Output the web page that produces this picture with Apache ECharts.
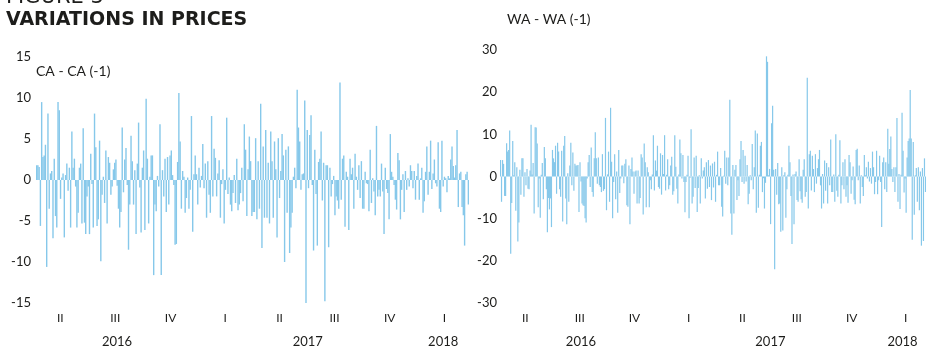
<!DOCTYPE html>
<html><head><meta charset="utf-8">
<script src="https://cdn.jsdelivr.net/npm/echarts@6/dist/echarts.min.js"></script>
<style>html,body{margin:0;padding:0;background:#fff}#c{width:926px;height:348px}</style>
</head><body><div id="c"></div>
<script>
// Daily change, CA - CA(-1)
const caValues = [
1.8,1.8,1.6,-5.6,9.5,2.8,3,4.3,-10.6,8.1,-3.5,0.8,1.1,-7.1,2.6,-4.4,-5.8,9.5,8.5,-2.3,0.3,0.8,-7,0.6,2,-1.3,1.5,-5.8,5.9,1.5,2.6,-0.8,-5.8,-4,1.5,2,-5.3,6.3,-5.2,-6.6,-2,-0.8,-6.6,3.2,-0.5,-5.8,8.1,4,-5.6,-4.8,4.8,-9.9,-1.8,0.4,-2.8,3.6,-5.3,2.8,2.1,-1.8,-0.8,1.3,2.1,2.5,-0.7,-3.5,-5.8,-3.9,6.4,-1.5,2.5,3.9,-0.6,-8.5,-3,5.4,2.3,-3,1.2,-6.6,2,7,-0.9,-6.4,1.5,3.6,-6.1,9.9,2.6,-5.3,0.4,3,3,-11.6,-3,-3.8,0.5,-0.8,6.8,-11.6,1.2,-2,2.6,-3.9,2.8,-3,3,3.6,0.6,-0.6,-7.9,
-7.8,2.2,10.6,4.7,-3.5,1.1,0.4,-4,-2.2,0.3,-3.5,-1.2,7.8,-6.3,0.7,3,0.7,-3,1.5,-0.9,0.5,4.4,-1,2,-4.6,2.3,-1.8,-4,7.8,-2,3.8,2.7,-2,0.8,2.4,-4.6,-0.5,1.3,-5.3,-1.2,7.6,-1.7,0.3,-3,-3.8,-1.6,0.6,-2.8,2.6,-3.7,-3,-1.6,1.5,-2.6,6.8,3.7,-4.4,1.3,5.3,2.3,-4.4,-3.9,-3.9,5.1,-4.8,2.3,-3.5,9.3,-8.3,4.1,-4.6,6.1,-4.6,2.1,-5.3,5.9,2.3,-4.6,4.7,1.3,-7,5.1,-2.2,1.1,5.6,3,-10,3.7,-4,4.1,-8.9,-5.8,-4,0.4,1.5,-1,11,6.4,4.7,-1.2,0.7,0.8,9.7,-15,6.1,-1,5.5,7.9,-0.6,-8.6,3.7,
-1.7,-8,2.2,2.6,5.9,-2.5,2.1,-14.8,1.8,1.8,-8.2,1.5,-2,-0.5,0.5,-4.3,-2,-2.5,-3.5,11.9,-2.4,2.6,3,-5.7,1,0.4,-6.1,2.6,0.7,1.5,-3.5,3.2,0.4,-1.2,1.8,-2.2,2.3,-3.5,-3.5,1,-0.4,-0.5,-3.8,3.7,-2.8,0.2,-1.4,-4.3,6.6,-2,-1.2,-2,2,-1.4,-6.6,1.5,-1.1,-1.6,-4.8,5.6,1,0.4,-0.6,-2.4,-3.6,3.3,2.4,-4.8,-1.2,0.7,-3.9,1.1,-1.2,0.2,-0.8,1.8,1.1,-1,1.1,-2.4,0.5,2,-2.4,0.2,1.5,-4,-2.6,1,4.1,-1.8,1,4.8,-1.1,0.8,2.5,-0.4,-0.8,4.6,-3.5,-3.9,4.8,-0.8,0.4,0.2,-1.5,0.5,0.2,2.5,4.1,1.7,0.3,1.8,6.1,-3.3,0.8,1,-3.3,-4.3,-8,0.7,1,-3
];
// Daily change, WA - WA(-1)
const waValues = [
3.9,-6,3.9,3,-4.6,-4.6,7.9,5.9,6.3,10.9,-18.3,-6.3,8.4,0.3,3.4,-8.1,2.2,-15.4,-10.9,1.6,-4.3,4.3,4.3,-4.8,1,-2.1,1.8,-2.9,-3,1.4,12.3,0.5,3.2,-8.8,11.7,11.6,7.8,-7.3,-0.5,-9.8,0.4,3.2,-5.4,7,4.3,-3,-13.2,-5.1,-7.8,-5.2,-12,6.3,4.3,3.4,7.3,-4.1,8,5.9,-3,-4.8,6.1,-10.7,7.3,9.6,-5.2,-11.3,0.8,-6,2.6,8,-2.1,5.7,-3.4,3,2.6,2.6,2.7,-8.4,3.4,-1.2,-6.4,-6.8,-7,-9.9,-10.9,-0.5,3.4,5.1,-2.5,6.9,-3.7,-4.8,4.3,10.5,4.3,-1.7,4.5,-2.1,-2.5,-3.7,5.3,-3.4,-3,13.9,-8,0.5,5.9,-6,16.3,3.5,-9.9,-1.3,5.3,-5.4,1.2,-8.6,6.3,-3.9,-0.5,2.6,2.6,-1.6,3,4.1,-6.8,-7.2,2.6,-11.3,1.8,4.5,1.2,-4.1,1.2,1.4,-6.4,
1.4,-6.4,-5.1,5.3,4.5,-9,7.8,3.4,-7.3,2.2,1,-7.3,-0.9,-3,0.5,9.8,-3.3,3.8,1.4,7.3,-2.5,-2.9,5.5,-4.3,5.1,0.6,9.8,-3.3,0.4,4.1,-3,-2.1,2.6,4.7,-4.3,-3.5,9.8,2.3,-2.9,-6.4,0.5,8.8,5.5,-0.5,5.1,-1.3,-8.5,-1.3,0.4,4.9,-9.9,-0.3,11.2,-6.4,-4.8,4.5,-2.7,4.9,-8.4,-2.7,0.3,-6.4,4.3,-0.5,1.4,2.2,-5.2,3.4,-2.9,3.9,-2.5,2.6,-5.6,3.1,-2.6,3.5,-6,0.4,5.9,-2.1,-2.1,2,-7.2,-9.5,0.2,6.1,-1.7,4.5,-2.1,4.5,18.2,-8.8,-13.8,2.7,-8.8,1.6,2.7,-5.6,-0.9,-4.6,4.1,8.4,-1.3,6.3,-1.7,4.9,-1.2,2.7,-6.6,-4.1,0.3,-0.9,7.7,-3,2.2,10.9,-8.6,10.2,-7.4,0.4,7.3,8.2,-3.7,-0.4,-7.6,-1.5,28.5,27.2,0.3,1.8,-11.3,12.6,16.8,1.6,-22,1.8,-4.3,3.2,-6.6,-6.4,-13.1,
2.2,-12.8,0.3,1,-9.8,-3,0.4,7.3,3.4,-4.6,-16,0.5,-11.3,0.6,1.2,-5.6,-6,4.1,-3.5,-5.4,-6.2,1.6,4.1,-4.8,-3.7,23.4,-7.6,5.3,6.1,-3.3,4.9,1.8,-3.7,5.3,-1.7,2,4.1,6.3,-2.1,-7.6,0.6,-6.4,3.8,-3.4,3.2,-6.4,2.2,-2.1,8.8,-3.7,-3.7,0.5,-6,10,-3.4,-4.8,0.4,8.6,-6.4,-2.1,3.4,-3,4.1,-4.8,-2.1,-6.2,5.1,3.4,-4.1,-0.9,2.4,-5.5,-6.6,6.3,6.6,-0.9,2.6,-6.4,0.3,-2.5,-4.6,5.1,0.3,2.2,-0.5,3.5,-1.2,2,-1.7,5.9,2.2,-4.2,-1.3,6.1,-4.2,-0.9,4.9,-1.3,-12,3.4,4.5,-3,3.4,-3.7,11.3,3,6.5,9.5,1.8,-1.3,2.2,-3.7,2.2,13.9,-6,0.6,-7.7,0.4,15.1,6.1,-3.8,-0.5,-8.6,4.5,8.4,9,20.5,9,-15,8.2,-9.1,0.3,2,-6,2.2,-8,1.2,-16.4,2,-15.3,4.3,-3.7
];
const caTicks = [-15,-10,-5,0,5,10,15];
const waTicks = [-30,-20,-10,0,10,20,30];
const quarterTicks = ['2016-Q2','2016-Q3','2016-Q4','2017-Q1','2017-Q2','2017-Q3','2017-Q4','2018-Q1'];
const yearTicks = ['2016','2017','2018'];
const caPeriod = ['2016-04-06','2018-03-28'];
const waPeriod = ['2016-04-04','2018-03-21'];

const DAY = 86400000;
const roman = ['I','II','III','IV'];
const dayNum = s => { const [y,m,d] = s.split('-').map(Number); return Date.UTC(y,m-1,d)/DAY; };
function quarterMid(s){ const [y,q] = s.split('-Q').map(Number); return (Date.UTC(y,(q-1)*3,1)+Date.UTC(y,q*3,1))/2/DAY; }
function yearMid(y, period){ const a = Math.max(Date.UTC(+y,0,1)/DAY, dayNum(period[0])); const b = Math.min(Date.UTC(+y+1,0,1)/DAY, dayNum(period[1])); return (a+b)/2; }

const TXT = '#1d1d1b';
const FONT = 'Lato';
const BAR = '#86c8ea';

function axesFor(gi, values, period){
  const qVals = quarterTicks.map(quarterMid);
  const qLab = quarterTicks.map(q => roman[+q.split('-Q')[1]-1]);
  const yVals = yearTicks.map(y => yearMid(y, period));
  const near = (arr, labs, v) => { let best=-1, d=1e9; arr.forEach((a,i)=>{ if(Math.abs(a-v)<d){d=Math.abs(a-v);best=i;} }); return d < 1 ? labs[best] : ''; };
  const base = {gridIndex: gi, type:'value', min: dayNum(period[0]), max: dayNum(period[1]), position:'bottom',
    axisLine:{show:false}, axisTick:{show:false}, splitLine:{show:false}};
  return [
    {type:'category', gridIndex: gi, data: values.map((_,i)=>'d'+i), show:false, boundaryGap:true},
    Object.assign({}, base, {axisLabel:{customValues: qVals, formatter: v => near(qVals, qLab, v), color:TXT, fontFamily:FONT, fontSize:12, margin:9, hideOverlap:false, showMinLabel:true, showMaxLabel:true}}),
    Object.assign({}, base, {offset: 23, axisLabel:{customValues: yVals, formatter: v => near(yVals, yearTicks, v), color:TXT, fontFamily:FONT, fontSize:13, margin:9, hideOverlap:false, showMinLabel:true, showMaxLabel:true}})
  ];
}
function yAxisFor(gi, ticks, margin){
  return {type:'value', gridIndex: gi, min: ticks[0], max: ticks[ticks.length-1], interval: ticks[1]-ticks[0],
    axisLine:{show:false}, axisTick:{show:false}, splitLine:{show:false},
    axisLabel:{color:TXT, fontFamily:FONT, fontSize:13, margin: margin}};
}

const chart = echarts.init(document.getElementById('c'), null, {renderer:'canvas'});
chart.setOption({
  animation:false,
  backgroundColor:'#fff',
  title:[
    {text:'FIGURE 3', left:6, top:-13, padding:0, textStyle:{fontFamily:'DejaVu Sans', fontWeight:'normal', fontSize:21, color:TXT}},
    {text:'VARIATIONS IN PRICES', left:6, top:11, padding:0, textStyle:{fontFamily:'DejaVu Sans', fontWeight:'bold', fontSize:19, color:TXT}},
    {text:'CA - CA (-1)', left:36, top:64, padding:0, textStyle:{fontFamily:FONT, fontWeight:'normal', fontSize:14, color:TXT}},
    {text:'WA - WA (-1)', left:507, top:12, padding:0, textStyle:{fontFamily:FONT, fontWeight:'normal', fontSize:14, color:TXT}}
  ],
  grid:[
    {left:36, right:457, top:57, bottom:44, containLabel:false},
    {left:500, right:0, top:50, bottom:42, containLabel:false}
  ],
  xAxis: [...axesFor(0, caValues, caPeriod), ...axesFor(1, waValues, waPeriod)],
  yAxis: [yAxisFor(0, caTicks, 5), yAxisFor(1, waTicks, 3)],
  series:[
    {type:'bar', xAxisIndex:0, yAxisIndex:0, data: caValues, barWidth:1.4, itemStyle:{color:BAR}, silent:true},
    {type:'bar', xAxisIndex:3, yAxisIndex:1, data: waValues, barWidth:1.2, itemStyle:{color:BAR}, silent:true}
  ]
});
</script></body></html>
